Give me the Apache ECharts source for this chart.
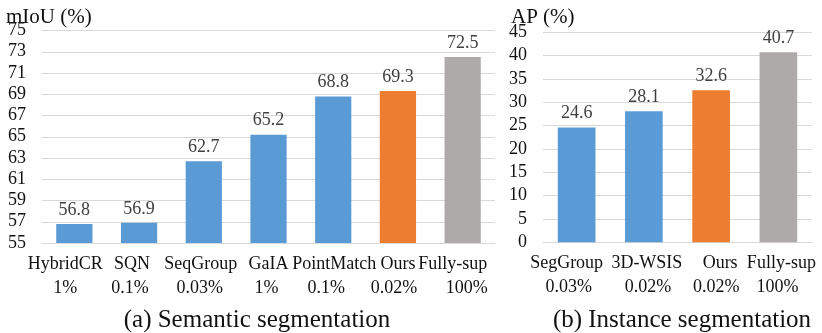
<!DOCTYPE html>
<html>
<head>
<meta charset="utf-8">
<script src="https://cdn.jsdelivr.net/npm/echarts@6/dist/echarts.min.js"></script>
<style>
  html, body { margin: 0; padding: 0; background: #fff; }
  #chart { width: 822px; height: 333px; }
</style>
</head>
<body>
<div id="chart"></div>
<script>
// (a) semantic segmentation
const semMethods = ['HybridCR', 'SQN', 'SeqGroup', 'GaIA', 'PointMatch', 'Ours', 'Fully-sup'];
const semRatios = ['1%', '0.1%', '0.03%', '1%', '0.1%', '0.02%', '100%'];
const semMiou = [56.8, 56.9, 62.7, 65.2, 68.8, 69.3, 72.5];

// (b) instance segmentation
const insMethods = ['SegGroup', '3D-WSIS', 'Ours', 'Fully-sup'];
const insRatios = ['0.03%', '0.02%', '0.02%', '100%'];
const insAp = [24.6, 28.1, 32.6, 40.7];

// the original labels are not exactly centred under the bars (px nudges, line 1 / line 2)
const semNameShift = [-9, -7, -3, 0, 1, 0, -10];
const semRatioShift = [-9, -9, -4, -2, -7, -4, 4];
const insNameShift = [-10, 3, 9, 3];
const insRatioShift = [-8, 4, 5, -1];

const font = '"Liberation Serif", "Times New Roman", serif';
const blue = '#5B9BD5', orange = '#ED7D31', gray = '#AEAAAA';

function barColor(name) {
  if (name === 'Ours') return orange;
  if (name === 'Fully-sup') return gray;
  return blue;
}

function shiftStyle(s) {
  return {
    fontFamily: font, fontSize: 18, lineHeight: 24, color: '#111',
    padding: s < 0 ? [0, -2 * s, 0, 0] : [0, 0, 0, 2 * s]
  };
}

function catAxis(idx, methods, ratios, nameShift, ratioShift) {
  const rich = {};
  methods.forEach((m, i) => {
    rich['a' + i] = shiftStyle(nameShift[i]);
    rich['b' + i] = shiftStyle(ratioShift[i]);
  });
  return {
    type: 'category',
    gridIndex: idx,
    data: methods,
    axisTick: { show: false },
    axisLine: { lineStyle: { color: '#D9D9D9', width: 1 } },
    axisLabel: {
      interval: 0,
      margin: 9,
      color: '#111',
      fontFamily: font,
      fontSize: 18,
      lineHeight: 24,
      formatter: (v, i) => '{a' + i + '|' + v + '}\n{b' + i + '|' + ratios[i] + '}',
      rich: rich
    }
  };
}

function valAxis(idx, min, max, step) {
  return {
    type: 'value',
    gridIndex: idx,
    min: min,
    max: max,
    interval: step,
    axisLine: { show: false },
    axisTick: { show: false },
    splitLine: { lineStyle: { color: '#D9D9D9', width: 1 } },
    axisLabel: { margin: 16, color: '#111', fontFamily: font, fontSize: 18 }
  };
}

function barSeries(idx, methods, values) {
  return {
    type: 'bar',
    xAxisIndex: idx,
    yAxisIndex: idx,
    barWidth: '56%',
    data: values,
    itemStyle: {
      color: p => barColor(methods[p.dataIndex])
    },
    label: {
      show: true,
      position: 'top',
      distance: 5,
      color: '#404040',
      fontFamily: font,
      fontSize: 18
    }
  };
}

const chart = echarts.init(document.getElementById('chart'));
chart.setOption({
  animation: false,
  title: [
    { text: 'mIoU (%)', left: 1, top: 2, textStyle: { fontFamily: font, fontSize: 21, fontWeight: 'normal', color: '#111' } },
    { text: 'AP (%)', left: 506, top: 2, textStyle: { fontFamily: font, fontSize: 21, fontWeight: 'normal', color: '#111' } },
    { text: '(a) Semantic segmentation', left: 252, top: 303, textAlign: 'center', textStyle: { fontFamily: font, fontSize: 25, fontWeight: 'normal', color: '#111' } },
    { text: '(b) Instance segmentation', left: 677, top: 303, textAlign: 'center', textStyle: { fontFamily: font, fontSize: 25, fontWeight: 'normal', color: '#111' } }
  ],
  grid: [
    { left: 42, right: 327, top: 30.5, bottom: 90 },
    { left: 543, right: 10, top: 32.3, bottom: 90.7 }
  ],
  xAxis: [
    catAxis(0, semMethods, semRatios, semNameShift, semRatioShift),
    catAxis(1, insMethods, insRatios, insNameShift, insRatioShift)
  ],
  yAxis: [
    valAxis(0, 55, 75, 2),
    valAxis(1, 0, 45, 5)
  ],
  series: [
    barSeries(0, semMethods, semMiou),
    barSeries(1, insMethods, insAp)
  ]
});
</script>
</body>
</html>
